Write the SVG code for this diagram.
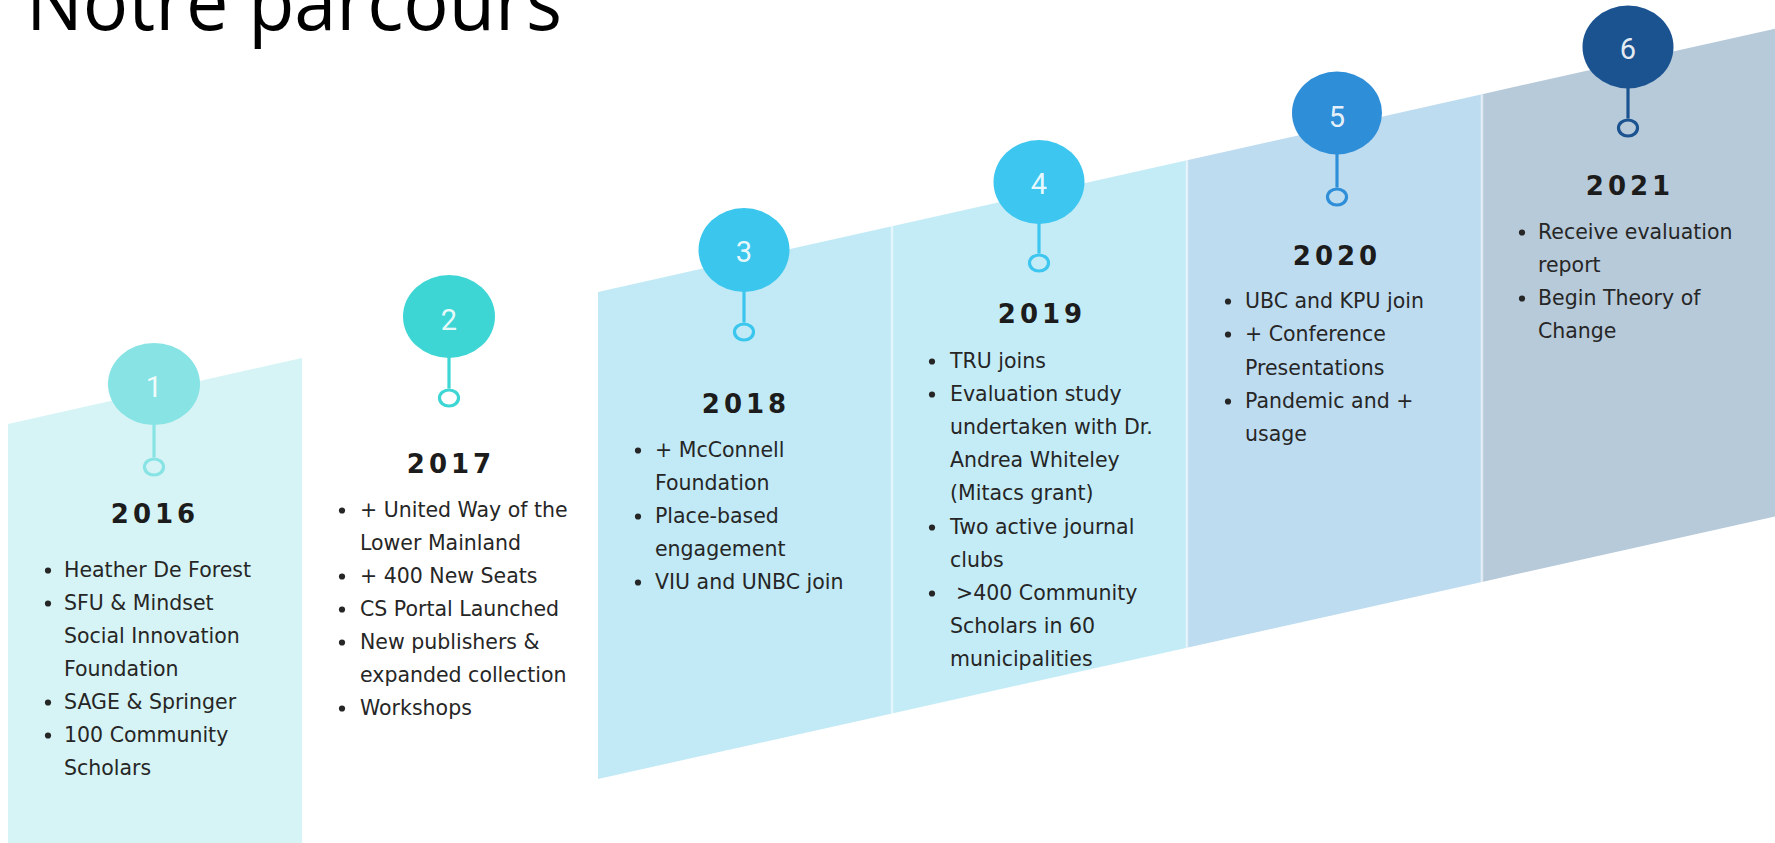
<svg xmlns="http://www.w3.org/2000/svg" width="1775" height="843" viewBox="0 0 1775 843">
<style>
.body{font-family:"DejaVu Sans","Liberation Sans",sans-serif;font-size:20.5px;fill:#262626}
.year{font-family:"DejaVu Sans","Liberation Sans",sans-serif;font-weight:bold;font-size:26px;letter-spacing:4px;fill:#1c1c1c;text-anchor:middle}
.num{font-family:Roboto,"Liberation Sans",sans-serif;font-weight:400;font-size:29px;fill:#ffffff;fill-opacity:0.9;text-anchor:middle}
.bul{fill:#262626}
.ring{fill:none;stroke-width:3.2}
.stem{stroke-width:3.2}
.div{stroke:#ffffff;stroke-opacity:0.55;stroke-width:2.5}
.title{font-family:"Open Sans","Liberation Sans",sans-serif;font-size:78px;fill:#000000}
</style>
<rect width="1775" height="843" fill="#ffffff"/>
<text id="title" class="title" x="26" y="30" textLength="536" lengthAdjust="spacingAndGlyphs">Notre parcours</text>

<g id="step1">
<polygon points="8,424 302,358 302,843 8,843" fill="#d6f4f5"/>
<ellipse cx="154" cy="384" rx="46" ry="41" fill="#87e3e4"/>
<text class="num" x="154" y="397">1</text>
<ellipse class="ring" cx="154" cy="467" rx="9.5" ry="8" stroke="#87e3e4"/>
<text class="year" x="155" y="523">2016</text>
<circle class="bul" cx="48" cy="570.5" r="3.1"/><text class="body" x="64" y="577">Heather De Forest</text>
<circle class="bul" cx="48" cy="603.5" r="3.1"/><text class="body" x="64" y="610">SFU &amp; Mindset</text>
<text class="body" x="64" y="643">Social Innovation</text>
<text class="body" x="64" y="676">Foundation</text>
<circle class="bul" cx="48" cy="702.5" r="3.1"/><text class="body" x="64" y="709">SAGE &amp; Springer</text>
<circle class="bul" cx="48" cy="735.5" r="3.1"/><text class="body" x="64" y="742">100 Community</text>
<text class="body" x="64" y="775">Scholars</text>
</g>

<g id="step2">
<ellipse cx="449" cy="316.5" rx="46" ry="41.5" fill="#3ed6d5"/>
<text class="num" x="449" y="329.5">2</text>
<ellipse class="ring" cx="449" cy="398" rx="9.5" ry="8" stroke="#3ed6d5"/>
<text class="year" x="451" y="473">2017</text>
<circle class="bul" cx="342" cy="510.5" r="3.1"/><text class="body" x="360" y="517">+ United Way of the</text>
<text class="body" x="360" y="550">Lower Mainland</text>
<circle class="bul" cx="342" cy="576.5" r="3.1"/><text class="body" x="360" y="583">+ 400 New Seats</text>
<circle class="bul" cx="342" cy="609.5" r="3.1"/><text class="body" x="360" y="616">CS Portal Launched</text>
<circle class="bul" cx="342" cy="642.5" r="3.1"/><text class="body" x="360" y="649">New publishers &amp;</text>
<text class="body" x="360" y="682">expanded collection</text>
<circle class="bul" cx="342" cy="708.5" r="3.1"/><text class="body" x="360" y="715">Workshops</text>
</g>

<g id="step3">
<polygon points="598,292 892,226.2 892,713.4 598,779" fill="#c1eaf6"/>
<ellipse cx="744" cy="250" rx="45.5" ry="42" fill="#3bc6ee"/>
<text class="num" x="744" y="262">3</text>
<ellipse class="ring" cx="744" cy="332" rx="9.5" ry="8" stroke="#3bc6ee"/>
<text class="year" x="746" y="413">2018</text>
<circle class="bul" cx="638" cy="450.5" r="3.1"/><text class="body" x="655" y="457">+ McConnell</text>
<text class="body" x="655" y="490">Foundation</text>
<circle class="bul" cx="638" cy="516.5" r="3.1"/><text class="body" x="655" y="523">Place-based</text>
<text class="body" x="655" y="556">engagement</text>
<circle class="bul" cx="638" cy="582.5" r="3.1"/><text class="body" x="655" y="589">VIU and UNBC join</text>
</g>

<g id="step4">
<polygon points="892,226.2 1187,160.2 1187,647.7 892,713.4" fill="#c4ecf7"/>
<ellipse cx="1039" cy="182" rx="45.5" ry="42" fill="#3dc6ef"/>
<text class="num" x="1039" y="194">4</text>
<ellipse class="ring" cx="1039" cy="263" rx="9.5" ry="8" stroke="#3dc6ef"/>
<text class="year" x="1042" y="323">2019</text>
<circle class="bul" cx="932" cy="361.5" r="3.1"/><text class="body" x="950" y="368">TRU joins</text>
<circle class="bul" cx="932" cy="394.5" r="3.1"/><text class="body" x="950" y="401">Evaluation study</text>
<text class="body" x="950" y="434">undertaken with Dr.</text>
<text class="body" x="950" y="467">Andrea Whiteley</text>
<text class="body" x="950" y="500">(Mitacs grant)</text>
<circle class="bul" cx="932" cy="527.5" r="3.1"/><text class="body" x="950" y="534">Two active journal</text>
<text class="body" x="950" y="567">clubs</text>
<circle class="bul" cx="932" cy="593.5" r="3.1"/><text class="body" x="956" y="600">&gt;400 Community</text>
<text class="body" x="950" y="633">Scholars in 60</text>
<text class="body" x="950" y="666">municipalities</text>
</g>

<g id="step5">
<polygon points="1187,160.2 1482,94.2 1482,581.9 1187,647.7" fill="#bedcf0"/>
<ellipse cx="1337" cy="113" rx="45" ry="41.5" fill="#2f8ed8"/>
<text class="num" x="1337" y="126.5">5</text>
<ellipse class="ring" cx="1337" cy="197" rx="9.5" ry="8" stroke="#2f8ed8"/>
<text class="year" x="1337" y="265">2020</text>
<circle class="bul" cx="1228" cy="301.5" r="3.1"/><text class="body" x="1245" y="308">UBC and KPU join</text>
<circle class="bul" cx="1228" cy="334.5" r="3.1"/><text class="body" x="1245" y="341">+ Conference</text>
<text class="body" x="1245" y="375">Presentations</text>
<circle class="bul" cx="1228" cy="401.5" r="3.1"/><text class="body" x="1245" y="408">Pandemic and +</text>
<text class="body" x="1245" y="441">usage</text>
</g>

<g id="step6">
<polygon points="1482,94.2 1775,28.7 1775,516.5 1482,581.9" fill="#b7cada"/>
<ellipse cx="1628" cy="47" rx="45.5" ry="41.5" fill="#1b5391"/>
<text class="num" x="1628" y="58.5">6</text>
<ellipse class="ring" cx="1628" cy="128" rx="9.5" ry="8" stroke="#1b5391"/>
<text class="year" x="1630" y="195">2021</text>
<circle class="bul" cx="1522" cy="232.5" r="3.1"/><text class="body" x="1538" y="239">Receive evaluation</text>
<text class="body" x="1538" y="272">report</text>
<circle class="bul" cx="1522" cy="298.5" r="3.1"/><text class="body" x="1538" y="305">Begin Theory of</text>
<text class="body" x="1538" y="338">Change</text>
</g>

<g id="dividers">
<line class="div" x1="892" y1="226.2" x2="892" y2="713.4"/>
<line class="div" x1="1187" y1="160.2" x2="1187" y2="647.7"/>
<line class="div" x1="1482" y1="94.2" x2="1482" y2="581.9"/>
</g>

<g id="connectors">
<line class="stem" x1="154" y1="424" x2="154" y2="457.5" stroke="#87e3e4"/>
<line class="stem" x1="449" y1="357" x2="449" y2="388.5" stroke="#3ed6d5"/>
<line class="stem" x1="744" y1="291" x2="744" y2="322.5" stroke="#3bc6ee"/>
<line class="stem" x1="1039" y1="223" x2="1039" y2="253.5" stroke="#3dc6ef"/>
<line class="stem" x1="1337" y1="153.5" x2="1337" y2="187.5" stroke="#2f8ed8"/>
<line class="stem" x1="1628" y1="87.5" x2="1628" y2="118.5" stroke="#1b5391"/>
</g>
</svg>
